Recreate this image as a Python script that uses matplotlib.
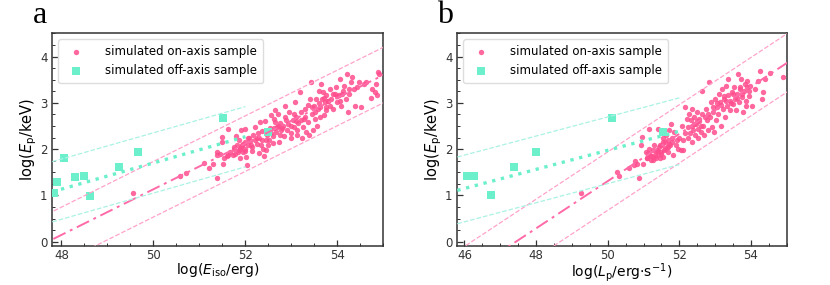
import matplotlib
matplotlib.use("Agg")
import matplotlib.pyplot as plt
import numpy as np
from matplotlib.ticker import MultipleLocator

# ---- panel a: on-axis sample, log(E_iso), log(E_p)
on_a_x = [49.55, 50.58, 50.70, 51.10, 51.20, 51.30, 51.39, 51.39, 51.39, 51.49,
          51.49, 51.52, 51.53, 51.63, 51.63, 51.67, 51.73, 51.75, 51.80, 51.82,
          51.84, 51.86, 51.88, 51.89, 51.91, 51.93, 51.95, 51.99, 52.00, 52.02,
          52.04, 52.06, 52.11, 52.14, 52.17, 52.20, 52.24, 52.25, 52.27, 52.30,
          52.31, 52.33, 52.35, 52.36, 52.38, 52.40, 52.44, 52.46, 52.50, 52.51,
          52.54, 52.56, 52.59, 52.60, 52.62, 52.64, 52.65, 52.67, 52.69, 52.71,
          52.73, 52.74, 52.76, 52.78, 52.82, 52.83, 52.85, 52.87, 52.90, 52.93,
          52.95, 52.98, 53.00, 53.03, 53.05, 53.07, 53.09, 53.11, 53.13, 53.15,
          53.18, 53.20, 53.22, 53.25, 53.27, 53.29, 53.32, 53.36, 53.38, 53.41,
          53.43, 53.45, 53.47, 53.49, 53.51, 53.54, 53.55, 53.58, 53.60, 53.61,
          53.63, 53.65, 53.67, 53.68, 53.70, 53.72, 53.74, 53.76, 53.79, 53.83,
          53.84, 53.87, 53.90, 53.94, 53.96, 53.99, 54.03, 54.06, 54.08, 54.12,
          54.15, 54.19, 54.21, 54.23, 54.26, 54.30, 54.32, 54.35, 54.39, 54.42,
          54.47, 54.52, 54.57, 54.62, 54.73, 54.76, 54.81, 54.83, 54.86, 54.88,
          54.90, 51.75, 51.90, 52.00, 51.95, 52.05, 52.10, 51.85, 51.78, 51.60,
          51.45, 52.20, 52.30, 52.45, 52.55, 52.70, 52.80, 53.00, 53.10, 53.20,
          53.30, 53.45, 53.60, 53.70, 53.80, 53.90, 54.00, 54.10, 54.25, 51.98,
          52.08, 52.15, 52.42, 52.62, 52.88, 53.05, 53.35, 53.52, 53.75, 54.05]
on_a_y = [1.05, 1.43, 1.49, 1.71, 1.59, 1.67, 1.37, 1.93, 1.87, 2.26,
          2.16, 1.67, 1.80, 2.44, 1.87, 1.93, 1.87, 2.05, 2.29, 2.09,
          1.94, 2.19, 2.00, 1.81, 2.41, 2.09, 1.94, 2.16, 2.43, 1.84,
          1.66, 2.23, 2.09, 2.05, 2.30, 2.48, 2.11, 2.23, 2.34, 1.91,
          2.59, 2.09, 2.19, 2.39, 2.01, 1.86, 1.98, 2.30, 2.09, 2.19,
          2.46, 2.73, 2.14, 2.29, 2.66, 2.84, 2.59, 2.37, 2.48, 2.76,
          2.16, 2.57, 2.30, 2.41, 2.51, 2.29, 2.69, 2.94, 2.41, 2.55,
          2.80, 2.23, 2.34, 2.62, 2.48, 3.01, 2.69, 2.30, 2.41, 2.57,
          3.23, 2.80, 2.23, 2.48, 2.66, 2.87, 2.37, 2.59, 2.30, 3.09,
          3.44, 2.76, 2.41, 2.94, 2.66, 3.09, 2.51, 2.87, 3.26, 2.69,
          2.90, 3.41, 3.09, 3.23, 2.73, 3.01, 2.90, 3.16, 3.05, 3.30,
          2.94, 3.09, 2.87, 3.19, 3.34, 3.01, 3.16, 3.51, 2.94, 3.26,
          3.37, 3.09, 3.62, 2.80, 3.19, 3.44, 3.56, 3.29, 2.93, 3.34,
          3.46, 2.91, 3.41, 3.44, 3.11, 3.30, 3.23, 3.41, 3.16, 3.67,
          3.62, 2.00, 2.05, 2.00, 2.12, 2.10, 2.18, 1.98, 1.90, 1.85,
          1.90, 2.20, 2.25, 2.20, 2.35, 2.50, 2.45, 2.50, 2.60, 2.62,
          2.70, 2.90, 3.00, 3.10, 3.05, 3.20, 3.15, 3.20, 3.30, 1.95,
          2.25, 1.95, 2.60, 2.45, 2.62, 2.75, 2.95, 2.80, 2.85, 3.05]

# ---- panel a: off-axis sample
off_a_x = [47.83, 47.90, 48.05, 48.29, 48.48, 48.61, 49.24, 49.66, 51.52, 52.48]
off_a_y = [1.05, 1.28, 1.80, 1.40, 1.42, 0.99, 1.62, 1.94, 2.67, 2.37]

# ---- panel b: on-axis sample, log(L_p), log(E_p)
on_b_x = [49.25, 50.27, 50.30, 50.60, 50.72, 50.76, 50.81, 50.87, 50.93, 50.95,
          50.99, 51.06, 51.09, 51.13, 51.15, 51.18, 51.21, 51.25, 51.27, 51.30,
          51.32, 51.34, 51.37, 51.40, 51.41, 51.44, 51.46, 51.49, 51.51, 51.53,
          51.55, 51.58, 51.60, 51.62, 51.65, 51.67, 51.69, 51.71, 51.74, 51.77,
          51.79, 51.83, 51.86, 51.90, 51.97, 52.05, 52.11, 52.07, 52.16, 52.20,
          52.23, 52.25, 52.27, 52.30, 52.33, 52.34, 52.36, 52.39, 52.42, 52.44,
          52.46, 52.48, 52.51, 52.53, 52.56, 52.59, 52.62, 52.64, 52.67, 52.70,
          52.73, 52.76, 52.79, 52.83, 52.86, 52.88, 52.90, 52.93, 52.96, 53.00,
          53.02, 53.05, 53.09, 53.11, 53.13, 53.16, 53.18, 53.21, 53.24, 53.27,
          53.29, 53.32, 53.35, 53.37, 53.40, 53.42, 53.46, 53.49, 53.52, 53.55,
          53.58, 53.61, 53.65, 53.67, 53.69, 53.72, 53.74, 53.78, 53.81, 53.83,
          53.86, 53.89, 53.93, 53.97, 54.02, 54.11, 54.20, 54.25, 54.30, 54.34,
          54.39, 54.53, 54.90, 51.20, 51.35, 51.50, 51.60, 51.72, 51.80, 51.15,
          51.28, 51.45, 51.68, 51.92, 52.00, 52.15, 52.35, 52.55, 52.72, 52.95,
          53.15, 53.30, 53.45, 53.60, 53.75, 53.85, 53.95, 51.10, 51.40, 51.55,
          52.40, 52.60, 52.80, 53.05, 53.25, 53.50, 53.70, 53.90, 52.10, 52.50]
on_b_y = [1.05, 1.51, 1.43, 1.59, 1.66, 1.74, 1.69, 1.37, 2.09, 2.26,
          1.69, 1.94, 1.81, 1.91, 2.44, 1.87, 1.76, 1.98, 1.76, 2.09,
          1.87, 1.80, 1.98, 2.44, 1.87, 2.05, 1.80, 1.93, 2.09, 2.23,
          1.84, 1.98, 2.16, 2.30, 2.05, 2.19, 1.94, 2.41, 2.09, 2.55,
          2.23, 1.87, 2.37, 2.09, 2.01, 1.98, 1.98, 2.51, 2.91, 2.66,
          2.23, 2.48, 2.76, 2.34, 2.62, 2.16, 2.87, 2.41, 2.69, 2.30,
          2.55, 2.80, 2.23, 2.44, 2.66, 2.37, 3.26, 2.76, 2.51, 2.30,
          2.87, 2.62, 2.41, 3.44, 2.69, 3.01, 2.48, 2.80, 2.37, 3.09,
          2.62, 2.91, 2.76, 3.19, 3.01, 2.51, 3.30, 2.87, 3.09, 2.69,
          3.37, 2.94, 3.16, 3.51, 3.05, 2.84, 3.23, 2.98, 3.34, 3.09,
          2.84, 3.19, 3.62, 3.01, 3.34, 3.51, 3.12, 2.80, 3.26, 3.41,
          2.94, 3.48, 3.14, 3.37, 2.94, 3.30, 3.48, 3.69, 3.09, 3.23,
          3.51, 3.64, 3.55, 1.85, 1.95, 1.90, 2.00, 2.12, 2.15, 2.00,
          1.82, 2.10, 2.05, 2.20, 2.25, 2.35, 2.50, 2.60, 2.70, 2.90,
          2.95, 3.05, 3.00, 3.10, 3.20, 3.05, 3.25, 1.80, 1.95, 2.15,
          2.55, 2.50, 2.75, 3.00, 3.15, 3.20, 3.30, 3.35, 2.20, 2.60]

# ---- panel b: off-axis sample
off_b_x = [46.07, 46.26, 46.74, 47.38, 48.01, 50.13, 51.54]
off_b_y = [1.41, 1.43, 1.00, 1.62, 1.94, 2.67, 2.37]

# ---- fitted relations: (slope, value at x_ref, x_ref, half-width of band)
fit_on_a = (0.493, 3.60, 55.0, 0.60)
fit_off_a = (0.283, 1.08, 47.8, 0.65)
fit_on_b = (0.510, 3.86, 55.0, 0.63)
fit_off_b = (0.206, 1.11, 45.8, 0.72)

xlims = [(47.8, 55.0), (45.8, 55.0)]
ylim = (-0.09, 4.5)
xlabels = [r"log($E_{\rm iso}$/erg)", r"log($L_{\rm p}$/erg$\cdot$s$^{-1}$)"]
ylabel = r"log($E_{\rm p}$/keV)"
panel_tags = ["a", "b"]

PINK = "#ff4d8d"
PINK_LIGHT = "#ffa3ca"
TEAL = "#6cf0cc"
TEAL_LIGHT = "#aaf2e4"


def draw_fit(ax, fit, x0, x1, color, band_color, style, lw, band=True):
    slope, yref, xref, half = fit
    xs = np.array([x0, x1])
    ys = yref + slope * (xs - xref)
    ax.plot(xs, ys, linestyle=style, color=color, lw=lw, zorder=4)
    if band:
        ax.plot(xs, ys + half, "--", color=band_color, lw=0.9, zorder=4)
        ax.plot(xs, ys - half, "--", color=band_color, lw=0.9, zorder=4)


fig = plt.figure(figsize=(8.3, 2.85), dpi=100)
axes = [fig.add_axes([0.063, 0.137, 0.399, 0.746]),
        fig.add_axes([0.551, 0.137, 0.397, 0.746])]
tag_x = [0.040, 0.527]

data = [(on_a_x, on_a_y, off_a_x, off_a_y, fit_on_a, fit_off_a),
        (on_b_x, on_b_y, off_b_x, off_b_y, fit_on_b, fit_off_b)]

for i, (ax, (ox, oy, fx, fy, fon, foff)) in enumerate(zip(axes, data)):
    xl = xlims[i]
    ax.scatter(ox, oy, s=15, color=PINK, alpha=0.85, lw=0, zorder=3,
               label="simulated on-axis sample")
    ax.scatter(fx, fy, s=26, marker="s", color=TEAL, lw=0, zorder=3,
               label="simulated off-axis sample")

    draw_fit(ax, fon, xl[0] - 1, xl[1] + 1, "#ff6aa8", PINK_LIGHT, (0, (7, 2.5, 1.5, 2.5)), 1.4)
    draw_fit(ax, foff, xl[0], 52.0, TEAL, TEAL_LIGHT, (0, (1, 1.7)), 2.4)

    ax.set_xlim(*xl)
    ax.set_ylim(*ylim)
    ax.xaxis.set_major_locator(MultipleLocator(2))
    ax.xaxis.set_minor_locator(MultipleLocator(0.5))
    ax.yaxis.set_major_locator(MultipleLocator(1))
    ax.yaxis.set_minor_locator(MultipleLocator(0.25))
    ax.tick_params(which="both", direction="in", colors="#333333", labelsize=8.5)
    ax.tick_params(which="major", length=4, width=0.9)
    ax.tick_params(which="minor", length=2.2, width=0.7)
    ax.tick_params(axis="x", pad=2.5)
    for sp in ax.spines.values():
        sp.set_color("#333333")
        sp.set_linewidth(1.1)

    ax.set_xlabel(xlabels[i], fontsize=10, labelpad=-1)
    ax.set_ylabel(ylabel, fontsize=10.5, labelpad=1)
    ax.legend(loc="upper left", fontsize=8.5, handletextpad=1.5,
              borderpad=0.5, framealpha=1, edgecolor="#dddddd")
    fig.text(tag_x[i], 1 - 23 / 285, panel_tags[i], fontsize=23,
             family="Liberation Serif", va="baseline", ha="left")

fig.savefig("out.png", dpi=100)
